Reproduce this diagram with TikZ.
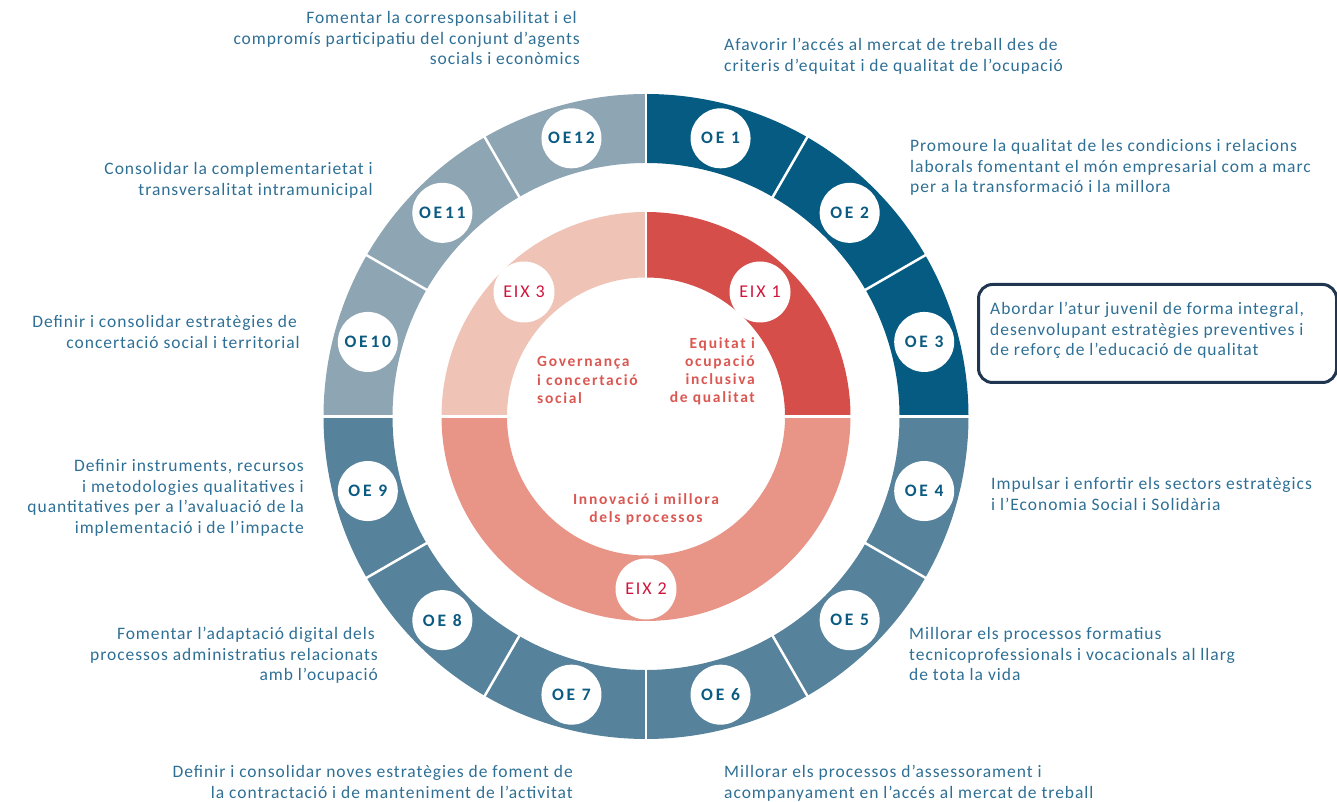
\documentclass[tikz,border=0pt]{standalone}
\usepackage{fontspec}
\setmainfont{Carlito}
\usetikzlibrary{calc}
\definecolor{oeA}{HTML}{055B82}
\definecolor{oeB}{HTML}{56829B}
\definecolor{oeC}{HTML}{8EA5B4}
\definecolor{eixA}{HTML}{D54E4A}
\definecolor{eixB}{HTML}{E89587}
\definecolor{eixC}{HTML}{EFC3B5}
\definecolor{oetxt}{HTML}{0B5A82}
\definecolor{exttxt}{HTML}{2E6F95}
\definecolor{eixtxt}{HTML}{D0153C}
\definecolor{ctrtxt}{HTML}{DA5752}
\definecolor{boxline}{HTML}{1F3550}
\tikzset{
  oecirc/.style={circle, fill=white, minimum size=60pt, inner sep=0pt, text=oetxt,
    font=\fontsize{17.5}{20}\selectfont\bfseries\addfontfeature{LetterSpace=16}},
  eixcirc/.style={circle, fill=white, minimum size=61pt, inner sep=0pt, text=eixtxt,
    font=\fontsize{18}{20}\selectfont\addfontfeature{LetterSpace=10}},
  ext/.style={text=exttxt, inner sep=0pt, font=\fontsize{17.5}{20.5}\selectfont\addfontfeature{LetterSpace=5.5}},
  extR/.style={ext, align=right, anchor=base east},
  extL/.style={ext, align=left, anchor=base west},
  ctr/.style={text=ctrtxt, inner sep=0pt, font=\fontsize{15.5}{18.3}\selectfont\bfseries\addfontfeature{LetterSpace=11}},
  divider/.style={white, line width=2.5pt},
  textbox/.style={draw=boxline, line width=3pt, rounded corners=14pt, fill=none}
}
\begin{document}
\begin{tikzpicture}[x=1pt,y=1pt]
\useasboundingbox (0,0) rectangle (1337,802);
\coordinate (C) at (646,385.5);
% outer ring
\foreach \i/\col in {1/oeA,2/oeA,3/oeA,4/oeB,5/oeB,6/oeB,7/oeB,8/oeB,9/oeB,10/oeC,11/oeC,12/oeC}{
  \pgfmathsetmacro\aS{90-30*(\i-1)}
  \pgfmathsetmacro\aE{\aS-30}
  \fill[\col] ($(C)+(\aS:322.5)$) arc[start angle=\aS, end angle=\aE, radius=322.5]
    -- ($(C)+(\aE:253.5)$) arc[start angle=\aE, end angle=\aS, radius=253.5] -- cycle;
}
\foreach \a in {0,30,...,330}{
  \draw[divider] ($(C)+(\a:251)$) -- ($(C)+(\a:325)$);
}
% inner ring
\fill[eixA] ($(C)+(0:204.5)$) arc[start angle=0, end angle=90, radius=204.5]
  -- ($(C)+(90:139)$) arc[start angle=90, end angle=0, radius=139] -- cycle;
\fill[eixC] ($(C)+(90:204.5)$) arc[start angle=90, end angle=180, radius=204.5]
  -- ($(C)+(180:139)$) arc[start angle=180, end angle=90, radius=139] -- cycle;
\fill[eixB] ($(C)+(180:204.5)$) arc[start angle=180, end angle=360, radius=204.5]
  -- ($(C)+(360:139)$) arc[start angle=360, end angle=180, radius=139] -- cycle;
\foreach \a in {0,90,180}{
  \draw[divider] ($(C)+(\a:137)$) -- ($(C)+(\a:207)$);
}
% OE circles
\foreach \i/\lab in {1/OE 1,2/OE 2,3/OE 3,4/OE 4,5/OE 5,6/OE 6,7/OE 7,8/OE 8,9/OE 9,10/OE10,11/OE11,12/OE12}{
  \node[oecirc] (oe\i) at ($(C)+({75-30*(\i-1)}:288)$) {\lab};
}
% EIX circles
\node[eixcirc] (eix1) at (760,510) {EIX 1};
\node[eixcirc] (eix2) at (646,213) {EIX 2};
\node[eixcirc] (eix3) at (524,510) {EIX 3};
% centre texts
\node[ctr, align=right, anchor=base east] (t1) at (755,399) {Equitat i\\ocupació\\inclusiva\\de qualitat};
\node[ctr, align=left, anchor=base west] (t3) at (537,398.5) {Governança\\i concertació\\social};
\node[ctr, align=center, anchor=base] (t2) at (646,279) {Innovació i millora\\dels processos};
% outer texts
\node[extR] (x12) at (580,737) {Fomentar la corresponsabilitat i el\hspace*{3pt}\\compromís participatiu del conjunt d’agents\hspace*{12pt}\\socials i econòmics};
\node[extL] (x1) at (724,730.5) {Afavorir l’accés al mercat de treball des de\\criteris d’equitat i de qualitat de l’ocupació};
\node[extL] (x2) at (910,609) {Promoure la qualitat de les condicions i relacions\\laborals fomentant el món empresarial com a marc\\per a la transformació i la millora};
\node[textbox, minimum width=358pt, minimum height=98pt, anchor=north west] (box3) at (977,519) {};
\node[extL] (x3) at (990,446) {Abordar l’atur juvenil de forma integral,\\desenvolupant estratègies preventives i\\de reforç de l’educació de qualitat};
\node[extL] (x4) at (991,291.5) {Impulsar i enfortir els sectors estratègics\\i l’Economia Social i Solidària};
\node[extL] (x5) at (909,121) {Millorar els processos formatius\\tecnicoprofessionals i vocacionals al llarg\\de tota la vida};
\node[extL] (x6) at (724,3.5) {Millorar els processos d’assessorament i\\acompanyament en l’accés al mercat de treball};
\node[extR] (x7) at (573,3.5) {Definir i consolidar noves estratègies de foment de\\la contractació i de manteniment de l’activitat};
\node[extR] (x8) at (378,121) {Fomentar l’adaptació digital dels\hspace*{3pt}\\processos administratius relacionats\hspace*{3pt}\\amb l’ocupació};
\node[extR] (x9) at (304,268.5) {Definir instruments, recursos\\i metodologies qualitatives i\\quantitatives per a l’avaluació de la\\implementació i de l’impacte};
\node[extR] (x10) at (300,453.5) {Definir i consolidar estratègies de\hspace*{3pt}\\concertació social i territorial};
\node[extR] (x11) at (373,606.5) {Consolidar la complementarietat i\\transversalitat intramunicipal};
\end{tikzpicture}
\end{document}
